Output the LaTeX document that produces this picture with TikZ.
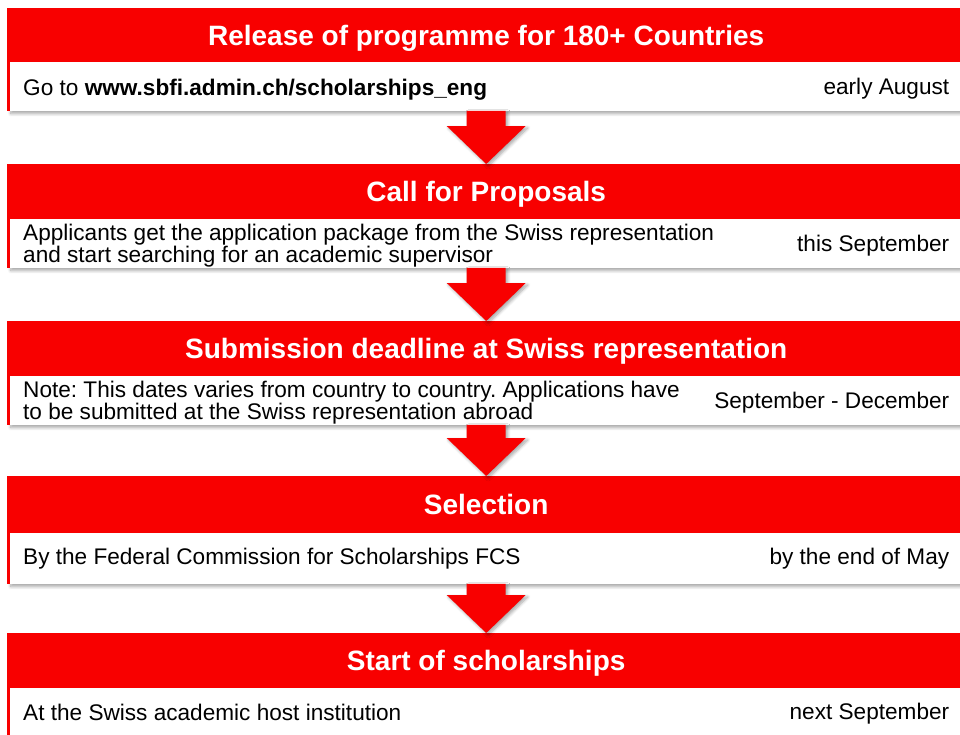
\documentclass[tikz,border=0pt]{standalone}
\usepackage{fontspec}
\setmainfont{Liberation Sans}
\usepackage{xcolor}
\usepackage{tikz}
\usetikzlibrary{calc, positioning, shadows.blur}
\definecolor{swissred}{RGB}{248,0,0}
\frenchspacing
\tikzset{
    headnode/.style = {rectangle, fill=swissred, inner sep = 0em, minimum width=958pt, anchor=north west,
      text height=24pt, text depth=4pt, text=white, font=\fontsize{28}{32}\selectfont\bfseries},
    bodynode/.style = {rectangle, fill=white, inner sep = 0em, minimum width=955pt, anchor=north west,
      blur shadow={shadow xshift=0.5pt, shadow yshift=-3pt, shadow opacity=35, shadow blur radius=3pt, shadow blur steps=8}},
    notenode/.style = {draw=none, fill=none, rectangle, inner sep = 0em, align=left,
      font=\fontsize{22.6}{22.5}\selectfont},
    datenode/.style = {draw=none, fill=none, rectangle, inner sep = 0em,
      font=\fontsize{22.6}{22.5}\selectfont},
    stagearrow/.style = {fill=swissred,
      blur shadow={shadow xshift=2pt, shadow yshift=-2pt, shadow opacity=35, shadow blur radius=3pt, shadow blur steps=6}}
}
\begin{document}
\begin{tikzpicture}[x=1pt, y=1pt]
    \useasboundingbox (0,0) rectangle (960,-734);

    \node [name=head1, headnode, minimum height=54pt] at (7,-8) {Release of programme for 180+ Countries};
    \node [name=body1, bodynode, minimum height=48pt] at ($(head1.south west)+(3,0)$) {};
    \fill [swissred] (head1.south west) rectangle (body1.south west);
    \node [name=note1, notenode, right=13pt of body1.west, yshift=-3.5pt] {Go to \textbf{www.sbfi.admin.ch/scholarships\_eng}};
    \node [name=date1, datenode, left=16pt of body1.east, yshift=-2.5pt] {early August};

    \node [name=head2, headnode, minimum height=55pt] at (7,-164) {Call for Proposals};
    \node [name=body2, bodynode, minimum height=48pt] at ($(head2.south west)+(3,0)$) {};
    \fill [swissred] (head2.south west) rectangle (body2.south west);
    \node [name=note2, notenode, right=13pt of body2.west, yshift=-2pt] {Applicants get the application package from the Swiss representation\\and start searching for an academic supervisor};
    \node [name=date2, datenode, left=16pt of body2.east, yshift=-2pt] {this September};

    \node [name=head3, headnode, minimum height=55pt] at (7,-321) {Submission deadline at Swiss representation};
    \node [name=body3, bodynode, minimum height=48pt] at ($(head3.south west)+(3,0)$) {};
    \fill [swissred] (head3.south west) rectangle (body3.south west);
    \node [name=note3, notenode, right=13pt of body3.west, yshift=-2pt] {Note: This dates varies from country to country. Applications have\\to be submitted at the Swiss representation abroad};
    \node [name=date3, datenode, left=16pt of body3.east, yshift=-2pt] {September - December};

    \node [name=head4, headnode, minimum height=57pt] at (7,-476) {Selection};
    \node [name=body4, bodynode, minimum height=50pt] at ($(head4.south west)+(3,0)$) {};
    \fill [swissred] (head4.south west) rectangle (body4.south west);
    \node [name=note4, notenode, right=13pt of body4.west] {By the Federal Commission for Scholarships FCS};
    \node [name=date4, datenode, left=16pt of body4.east] {by the end of May};

    \node [name=head5, headnode, minimum height=55pt] at (7,-633) {Start of scholarships};
    \node [name=body5, bodynode, minimum height=48pt] at ($(head5.south west)+(3,0)$) {};
    \fill [swissred] (head5.south west) rectangle (body5.south west);
    \node [name=note5, notenode, right=13pt of body5.west] {At the Swiss academic host institution};
    \node [name=date5, datenode, left=16pt of body5.east, yshift=-1pt] {next September};

    \foreach \a/\b in {body1/head2, body2/head3, body3/head4, body4/head5}
      \fill [stagearrow] let \p1=(\a.south), \p2=(\b.north) in
        (\x2-19.5pt,\y1) -- (\x2+19.5pt,\y1) -- (\x2+19.5pt,\y2+38pt) -- (\x2+39.5pt,\y2+38pt)
        -- (\p2) -- (\x2-39.5pt,\y2+38pt) -- (\x2-19.5pt,\y2+38pt) -- cycle;
\end{tikzpicture}
\end{document}
